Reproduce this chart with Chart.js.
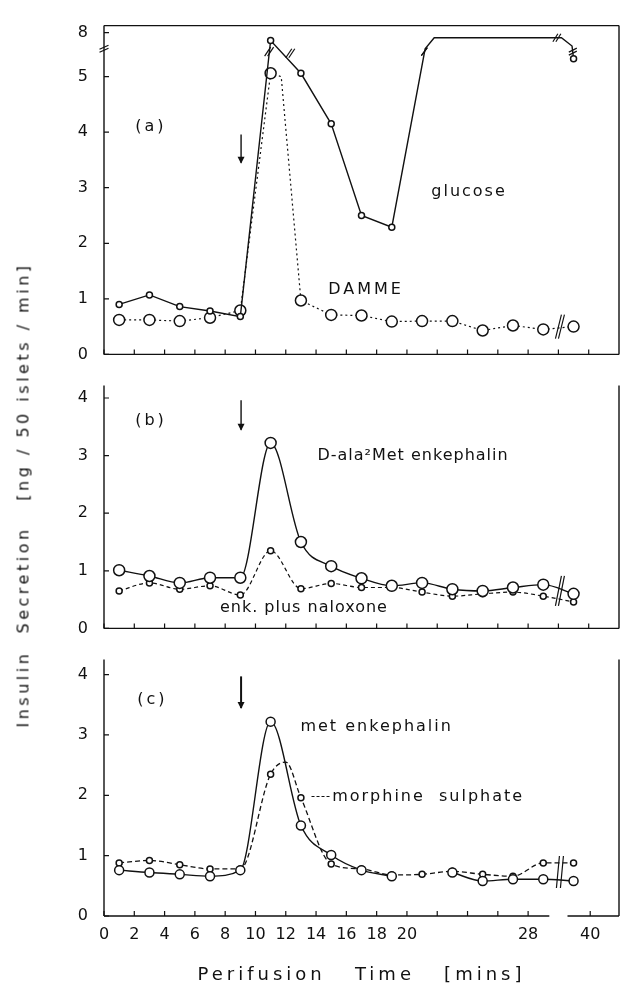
<!DOCTYPE html>
<html lang="en">
<head>
<meta charset="UTF-8">
<title>Insulin secretion</title>
<script src="https://cdn.jsdelivr.net/npm/chart.js"></script>
<style>
  body { margin: 0; background: #fff; width: 627px; height: 990px; position: relative; overflow: hidden; font-family: "DejaVu Sans", sans-serif; }
  canvas { position: absolute; left: 0; }
  #ytitle { position: absolute; left: 23px; top: 495px; transform: translate(-50%, -50%) rotate(-90deg); white-space: pre; font-size: 16px; letter-spacing: 3.5px; color: #111; }
</style>
</head>
<body>
<canvas id="pa" width="627" height="380" style="top:0"></canvas>
<canvas id="pb" width="627" height="294" style="top:360px"></canvas>
<canvas id="pc" width="627" height="356" style="top:634px"></canvas>
<div id="ytitle">Insulin  Secretion   [ng / 50 islets / min]</div>

<script>
  // ---- data (panel a values above 5.5 are on the broken part of the axis) ----
  const glucoseTime  = [1, 3, 5, 7, 9, 11, 13, 15, 17, 19, 21.2, 21.8, 30.2, 30.9, 31];
  const glucoseValue = [0.90, 1.07, 0.86, 0.78, 0.68, 5.65, 5.06, 4.15, 2.50, 2.29, 5.50, 5.70, 5.70, 5.55, 5.32];
  const dammeTime  = [1, 3, 5, 7, 9, 11, 11.7, 13, 15, 17, 19, 21, 23, 25, 27, 29, 31];
  const dammeValue = [0.62, 0.62, 0.60, 0.66, 0.79, 5.06, 5.00, 0.97, 0.71, 0.70, 0.59, 0.60, 0.60, 0.43, 0.52, 0.45, 0.50];

  const minutes  = [1, 3, 5, 7, 9, 11, 13, 15, 17, 19, 21, 23, 25, 27, 29, 31];
  const dala     = [1.01, 0.91, 0.79, 0.88, 0.88, 3.22, 1.50, 1.08, 0.87, 0.74, 0.79, 0.68, 0.65, 0.71, 0.76, 0.60];
  const naloxone = [0.65, 0.79, 0.68, 0.74, 0.58, 1.35, 0.69, 0.78, 0.71, 0.71, 0.63, 0.56, 0.60, 0.63, 0.56, 0.46];
  const metEnk   = [0.76, 0.72, 0.69, 0.66, 0.76, 3.22, 1.50, 1.01, 0.76, 0.66, null, 0.72, 0.58, 0.61, 0.61, 0.58];
  const morphineTime  = [1, 3, 5, 7, 9, 11, 12, 13, 15, 17, 19, 21, 23, 25, 27, 29, 31];
  const morphineValue = [0.88, 0.92, 0.85, 0.78, 0.78, 2.35, 2.55, 1.96, 0.86, 0.78, 0.68, 0.69, 0.74, 0.69, 0.66, 0.88, 0.88];

  const yTicksA = [0, 1, 2, 3, 4, 5, 5.79];
  const yLabelsA = ['0', '1', '2', '3', '4', '5', '8'];
  const yTicksB = [0, 1, 2, 3, 4];
  const xLabelValues = [0, 2, 4, 6, 8, 10, 12, 14, 16, 18, 20, 28, 32.1];
  const xLabels = ['0', '2', '4', '6', '8', '10', '12', '14', '16', '18', '20', '28', '40'];
  const xMarks = [0, 2, 4, 6, 8, 10, 12, 14, 16, 18, 20, 22, 24, 26, 28, 30, 32];
  const xMarksBottom = [0, 2, 4, 6, 8, 10, 12, 14, 16, 18, 20, 22, 24, 26, 28, 32.1];

  const ink = '#111';
  const pts = (t, v) => t.map((x, i) => ({ x, y: v[i] }));

  // extra drawing per panel: frame, inward ticks, breaks, labels, arrows
  const extras = {
    pa: {
      top: true, yTicks: yTicksA, xMarks: xMarks,
      notes: [
        { text: '(a)', t: 3.1, v: 4.09, sp: 3 },
        { text: 'glucose', t: 24.1, v: 2.93, sp: 2 },
        { text: 'DAMME', t: 17.3, v: 1.17, sp: 3 }
      ],
      breaks: [
        { t: 10.9, v: 5.45, w: 6, h: 9, dx: 3, dy: 0 },
        { t: 12.3, v: 5.42, w: 6, h: 9, dx: 3, dy: 0 },
        { t: 21.15, v: 5.45, w: 6, h: 8, dx: 0, dy: 0 },
        { t: 29.9, v: 5.70, w: 5, h: 8, dx: 3, dy: 0 },
        { t: 30.95, v: 5.45, w: 8, h: 4, dx: 0, dy: 3 },
        { t: 30.1, v: 0.50, w: 6, h: 24, dx: 3, dy: 0 },
        { t: 0, v: 5.5, w: 9, h: 4, dx: 0, dy: 3 }
      ],
      arrow: { t: 9.05, from: 3.96, to: 3.43, lw: 1.4 }
    },
    pb: {
      yTicks: yTicksB, xMarks: xMarks,
      notes: [
        { text: '(b)', t: 3.1, v: 3.6, sp: 3 },
        { text: 'D-ala\u00B2Met enkephalin', t: 20.4, v: 3.0, sp: 1 },
        { text: 'enk. plus naloxone', t: 13.2, v: 0.35, sp: 1 }
      ],
      breaks: [{ t: 30.1, v: 0.65, w: 6, h: 30, dx: 3, dy: 0 }],
      arrow: { t: 9.05, from: 3.96, to: 3.43, lw: 1.4 }
    },
    pc: {
      yTicks: yTicksB, xMarks: xMarksBottom, gap: [29.4, 30.6], xTitle: 'Perifusion   Time   [mins]',
      notes: [
        { text: '(c)', t: 3.2, v: 3.58, sp: 3 },
        { text: 'met enkephalin', t: 18.0, v: 3.14, sp: 2 },
        { text: 'morphine  sulphate', t: 21.4, v: 1.98, sp: 2 }
      ],
      leader: { from: 13.7, to: 15.0, v: 1.98 },
      breaks: [{ t: 30.1, v: 0.73, w: 3, h: 32, dx: 4, dy: 0 }],
      arrow: { t: 9.05, from: 3.97, to: 3.43, lw: 2 }
    }
  };

  const sketch = {
    id: 'sketch',
    afterDraw(chart) {
      const e = extras[chart.canvas.id];
      const { ctx, chartArea: a, scales: { x, y } } = chart;
      ctx.save();
      ctx.strokeStyle = ink; ctx.fillStyle = ink; ctx.lineWidth = 1.4;
      ctx.beginPath();
      ctx.moveTo(a.left, a.top); ctx.lineTo(a.left, a.bottom);
      ctx.moveTo(a.right, a.top); ctx.lineTo(a.right, a.bottom);
      if (e.top) { ctx.moveTo(a.left, a.top); ctx.lineTo(a.right, a.top); }
      if (e.gap) {
        ctx.moveTo(a.left, a.bottom); ctx.lineTo(x.getPixelForValue(e.gap[0]), a.bottom);
        ctx.moveTo(x.getPixelForValue(e.gap[1]), a.bottom); ctx.lineTo(a.right, a.bottom);
      } else {
        ctx.moveTo(a.left, a.bottom); ctx.lineTo(a.right, a.bottom);
      }
      ctx.stroke();

      ctx.lineWidth = 1.2;
      ctx.beginPath();
      e.yTicks.forEach(v => { const py = y.getPixelForValue(v); ctx.moveTo(a.left, py); ctx.lineTo(a.left + 5, py); });
      e.xMarks.forEach(v => { const px = x.getPixelForValue(v); ctx.moveTo(px, a.bottom); ctx.lineTo(px, a.bottom - 5); });
      ctx.stroke();

      // break marks
      e.breaks.forEach(b => {
        const px = x.getPixelForValue(b.t), py = y.getPixelForValue(b.v);
        [-0.5, 0.5].forEach(k => {
          const ox = px + k * b.dx, oy = py + k * b.dy;
          ctx.beginPath();
          ctx.moveTo(ox - b.w / 2, oy + b.h / 2);
          ctx.lineTo(ox + b.w / 2, oy - b.h / 2);
          ctx.stroke();
        });
      });

      // arrow
      const ar = e.arrow, ax = x.getPixelForValue(ar.t), y1 = y.getPixelForValue(ar.from), y2 = y.getPixelForValue(ar.to);
      ctx.lineWidth = ar.lw;
      ctx.beginPath(); ctx.moveTo(ax, y1); ctx.lineTo(ax, y2 - 1); ctx.stroke();
      ctx.beginPath(); ctx.moveTo(ax - 3.5, y2 - 7); ctx.lineTo(ax, y2); ctx.lineTo(ax + 3.5, y2 - 7); ctx.closePath(); ctx.fill();

      if (e.leader) {
        ctx.lineWidth = 1.2; ctx.setLineDash([3, 2]);
        const ly = y.getPixelForValue(e.leader.v);
        ctx.beginPath(); ctx.moveTo(x.getPixelForValue(e.leader.from), ly); ctx.lineTo(x.getPixelForValue(e.leader.to), ly); ctx.stroke();
        ctx.setLineDash([]);
      }

      ctx.textAlign = 'center'; ctx.textBaseline = 'middle';
      ctx.font = '16px "DejaVu Sans"';
      e.notes.forEach(n => {
        ctx.letterSpacing = n.sp + 'px';
        ctx.fillText(n.text, x.getPixelForValue(n.t), y.getPixelForValue(n.v));
      });
      if (e.xTitle) {
        ctx.font = '18px "DejaVu Sans"'; ctx.letterSpacing = '4px';
        ctx.fillText(e.xTitle, (a.left + a.right) / 2, 975 - 634);
      }
      ctx.restore();
    }
  };

  const lineSet = (data, opts) => Object.assign({
    data, borderColor: ink, borderWidth: 1.4, pointBorderColor: ink, pointBackgroundColor: '#fff',
    pointBorderWidth: 1.5, tension: 0, clip: false, spanGaps: false
  }, opts);

  function makePanel(id, datasets, yMax, yTicks, yLabels, padding, withX) {
    new Chart(document.getElementById(id), {
      type: 'line',
      data: { datasets },
      plugins: [sketch],
      options: {
        responsive: false, animation: false,
        layout: { padding },
        plugins: { legend: { display: false }, tooltip: { enabled: false } },
        scales: {
          x: {
            type: 'linear', min: 0, max: 34, display: withX,
            grid: { display: false, drawTicks: false }, border: { display: false },
            afterBuildTicks: s => { s.ticks = xLabelValues.map(v => ({ value: v })); },
            afterFit: s => { if (withX) s.height = 72; },
            ticks: { autoSkip: false, maxRotation: 0, padding: 9, color: ink,
              font: { family: 'DejaVu Sans', size: 16 }, callback: (v, i) => xLabels[i] }
          },
          y: {
            min: 0, max: yMax,
            grid: { display: false, drawTicks: false }, border: { display: false },
            afterBuildTicks: s => { s.ticks = yTicks.map(v => ({ value: v })); },
            afterFit: s => { s.width = 104; },
            ticks: { padding: 16, color: ink, font: { family: 'DejaVu Sans', size: 16 },
              callback: (v, i) => yLabels[i] }
          }
        }
      }
    });
  }

  makePanel('pa', [
    lineSet(pts(glucoseTime, glucoseValue), {
      pointRadius: c => Number.isInteger(c.raw.x) ? 3 : 0
    }),
    lineSet(pts(dammeTime, dammeValue), {
      borderDash: [2, 3], borderWidth: 1.2,
      pointRadius: c => Number.isInteger(c.raw.x) ? 5.5 : 0
    })
  ], (368 - 7) / 61, yTicksA, yLabelsA, { top: 7, bottom: 12, left: 0, right: 8 }, false);

  makePanel('pb', [
    lineSet(pts(minutes, dala), { pointRadius: 5.5, cubicInterpolationMode: 'monotone' }),
    lineSet(pts(minutes, naloxone), { borderDash: [4, 3], borderWidth: 1.2, pointRadius: 3, cubicInterpolationMode: 'monotone' })
  ], (642 - 368) / 65, yTicksB, yTicksB.map(String), { top: 8, bottom: 12, left: 0, right: 8 }, false);

  makePanel('pc', [
    lineSet(pts(minutes, metEnk), { pointRadius: 4.5, cubicInterpolationMode: 'monotone' }),
    lineSet(pts(morphineTime, morphineValue), {
      borderDash: [5, 3], borderWidth: 1.3, cubicInterpolationMode: 'monotone',
      pointRadius: c => Number.isInteger(c.raw.x / 2 - 0.5) ? 3 : 0
    })
  ], (916 - 642) / 64.5, yTicksB, yTicksB.map(String), { top: 8, bottom: 2, left: 0, right: 8 }, true);
</script>
</body>
</html>
